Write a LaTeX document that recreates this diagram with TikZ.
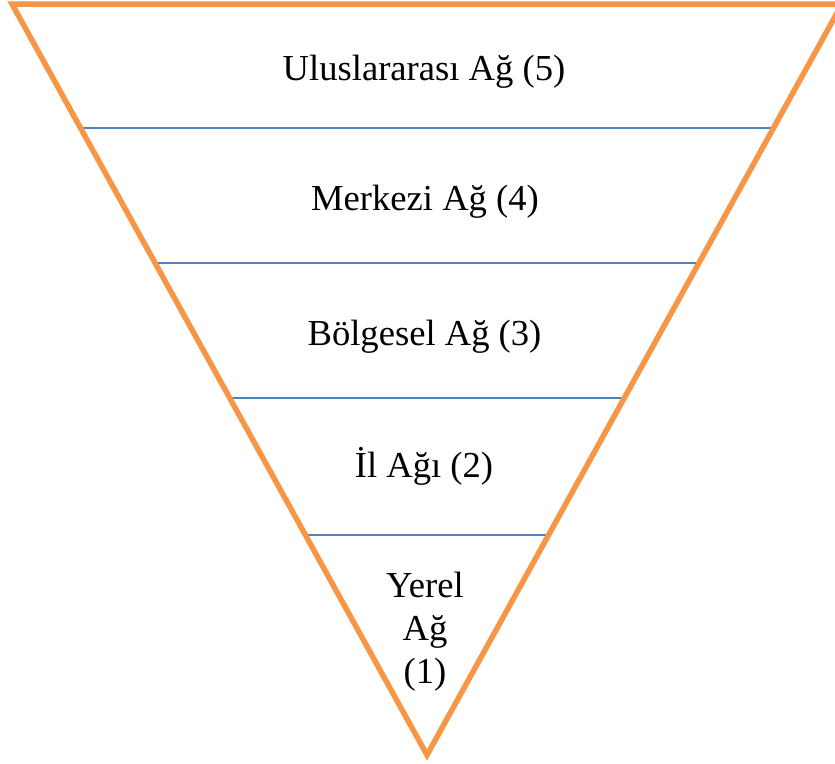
\documentclass[tikz,border=0pt]{standalone}
\usepackage{fontspec}
\setmainfont{Liberation Serif}
\usetikzlibrary{calc}
\definecolor{tri}{HTML}{F79646}
\definecolor{sep}{HTML}{4F81BD}
\begin{document}
\begin{tikzpicture}[x=1pt,y=-1pt,
  lbl/.style={font=\fontsize{36.6}{43}\selectfont, inner sep=0pt, anchor=base, align=center},
  edge/.style={draw=tri, line width=5.5pt, line join=miter},
  sepline/.style={draw=sep, line width=1.6pt}]
\useasboundingbox (0,0) rectangle (835,763);
\coordinate (tl) at (12,4);
\coordinate (tr) at (842,4);
\coordinate (apex) at (427,755);
\foreach \t [count=\i] in {0.1651,0.3449,0.5246,0.7071}
  \draw[sepline] ($(tl)!\t!(apex)$) coordinate (l\i) -- ($(tr)!\t!(apex)$) coordinate (r\i);
\draw[edge] (tl) -- (tr) -- (apex) -- cycle;
\node[lbl] (n5) at (424,80) {Uluslararası Ağ (5)};
\node[lbl] (n4) at (425,210) {Merkezi Ağ (4)};
\node[lbl] (n3) at (424.5,345) {Bölgesel Ağ (3)};
\node[lbl] (n2) at (424,477) {İl Ağı (2)};
\node[lbl] (n1) at (425,683) {Yerel\\ Ağ\\(1)};
\end{tikzpicture}
\end{document}
